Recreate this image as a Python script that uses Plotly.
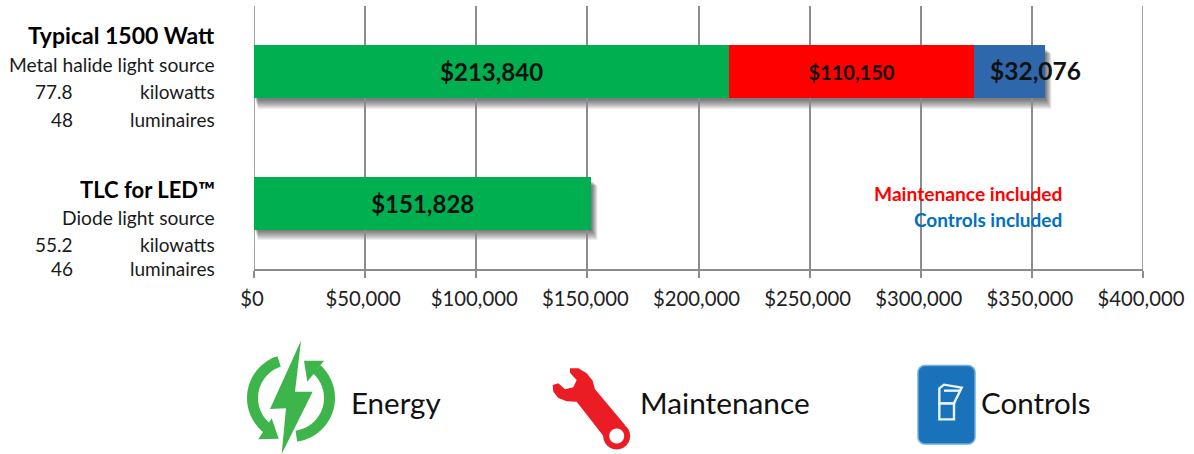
import math
import plotly.graph_objects as go

categories = ["Typical 1500 Watt", "TLC for LED™"]
energy = [213840, 151828]
maintenance = [110150, None]
controls = [32076, None]
x_ticks = [0, 50000, 100000, 150000, 200000, 250000, 300000, 350000, 400000]
x_tick_labels = ["$0", "$50,000", "$100,000", "$150,000", "$200,000", "$250,000", "$300,000", "$350,000", "$400,000"]
sub_labels = ["Metal halide light source", "Diode light source"]
kilowatts = ["77.8", "55.2"]
luminaires = ["48", "46"]
legend_names = ["Energy", "Maintenance", "Controls"]

W, H = 1194, 454
L, R, T, B = 254, 1143, 6, 269
FONT = "Lato, Carlito, Calibri, sans-serif"
GREEN, RED, BLUE = "#00B050", "#FF0000", "#2F67AC"
GRID = "#8C8C8C"

def px(x): return (x - L) / (R - L)
def py(y): return (B - y) / (B - T)
def poly(points, close=True):
    s = "M " + " L ".join(f"{px(a):.5f},{py(b):.5f}" for a, b in points)
    return s + (" Z" if close else "")
def arc(cx, cy, r1, r2, a0, a1, n=30):
    outer = [(cx + r1 * math.cos(math.radians(a0 + (a1 - a0) * i / n)),
              cy + r1 * math.sin(math.radians(a0 + (a1 - a0) * i / n))) for i in range(n + 1)]
    inner = [(cx + r2 * math.cos(math.radians(a1 - (a1 - a0) * i / n)),
              cy + r2 * math.sin(math.radians(a1 - (a1 - a0) * i / n))) for i in range(n + 1)]
    return outer + inner
def z3(points, ox, oy):
    return [(ox + a / 3, oy + b / 3) for a, b in points]

fig = go.Figure()
for name, vals, col, fsize in [("Energy", energy, GREEN, 24), ("Maintenance", maintenance, RED, 20), ("Controls", controls, BLUE, 24)]:
    labels = [f"${v:,}" if v is not None and name != "Controls" else "" for v in vals]
    fig.add_trace(go.Bar(
        y=categories, x=vals, name=name, orientation="h", width=0.4,
        marker=dict(color=col, line=dict(width=0)),
        text=labels, textposition="inside", insidetextanchor="middle", textangle=0,
        constraintext="none",
        insidetextfont=dict(family=FONT, size=fsize, color="#111", weight="bold"),
        hoverinfo="skip", showlegend=False,
    ))

shapes = []
# edge gridlines at the two ends of the value axis
for v in (x_ticks[0], x_ticks[-1]):
    shapes.append(dict(type="line", xref="x", yref="paper", layer="between", x0=v, x1=v, y0=0, y1=1,
                       line=dict(color=GRID, width=1.6)))
# white panel behind the inclusion notes
shapes.append(dict(type="rect", xref="paper", yref="paper", layer="between",
                   x0=px(870), x1=px(1066), y0=py(240), y1=py(173), fillcolor="white", line_width=0))
# soft drop shadows under bars
totals = [energy[0] + maintenance[0] + controls[0], energy[1]]
bottoms = [98, 229]
tops = [45, 177]
for total, bot, top in zip(totals, bottoms, tops):
    end = L + total / 400000 * (R - L)
    for i in range(10):
        shapes.append(dict(type="rect", xref="paper", yref="paper", layer="between",
                           x0=px(L + 1 + (9 - i) * 0.35), x1=px(end + 6 - i * 0.6),
                           y0=py(bot + 11 - i), y1=py(top + 4 + (9 - i) * 0.5),
                           fillcolor="rgba(0,0,0,0.065)", line_width=0))

# Energy icon
ICON_GREEN = "#3DB54A"
bolt = z3([(213, 32), (120, 237), (168, 235), (155, 372), (248, 185), (195, 185)], 230, 330)
shapes.append(dict(type="path", xref="paper", yref="paper", path=poly(bolt), fillcolor=ICON_GREEN, line_width=0))
cx, cy = 291, 398
left = arc(cx, cy, 44, 33, 252, 128)
right = arc(cx, cy, 44, 33, 82, -48)
shapes.append(dict(type="path", xref="paper", yref="paper", path=poly(left), fillcolor=ICON_GREEN, line_width=0))
shapes.append(dict(type="path", xref="paper", yref="paper", path=poly(right), fillcolor=ICON_GREEN, line_width=0))
shapes.append(dict(type="path", xref="paper", yref="paper",
                   path=poly(z3([(85, 328), (146, 326), (125, 265)], 230, 330)), fillcolor=ICON_GREEN, line_width=0))
shapes.append(dict(type="path", xref="paper", yref="paper",
                   path=poly(z3([(222, 92), (282, 92), (232, 155)], 230, 330)), fillcolor=ICON_GREEN, line_width=0))

# Wrench icon
ICON_RED = "#EC1C24"
wrench = z3([(1020, 115), (1045, 115), (1070, 130), (1088, 152), (1095, 178), (1185, 285), (1122, 320), (1040, 215),
             (1010, 214), (985, 204), (970, 185), (968, 165), (985, 160), (1005, 178), (1030, 172), (1040, 150), (1020, 128)], 230, 330)
shapes.append(dict(type="path", xref="paper", yref="paper", path=poly(wrench), fillcolor=ICON_RED, line_width=0))
wx, wy = 230 + 1160 / 3, 330 + 318 / 3
ring_o = [(wx + 13.5 * math.cos(t / 24 * 2 * math.pi), wy + 13.5 * math.sin(t / 24 * 2 * math.pi)) for t in range(24)]
ring_i = [(wx + 7.5 * math.cos(t / 24 * 2 * math.pi), wy + 7.5 * math.sin(t / 24 * 2 * math.pi)) for t in range(24)]
shapes.append(dict(type="path", xref="paper", yref="paper", path=poly(ring_o), fillcolor=ICON_RED, line_width=0))
shapes.append(dict(type="path", xref="paper", yref="paper", path=poly(ring_i), fillcolor="white", line_width=0))

# Controls icon
rx0, rx1, ry0, ry1, rr = 918, 975, 365.5, 444, 7
corner = lambda x, y, a: [(x + rr * math.cos(math.radians(a + 15 * k)), y + rr * math.sin(math.radians(a + 15 * k))) for k in range(7)]
rounded = corner(rx1 - rr, ry0 + rr, 270) + corner(rx1 - rr, ry1 - rr, 0) + corner(rx0 + rr, ry1 - rr, 90) + corner(rx0 + rr, ry0 + rr, 180)
shapes.append(dict(type="path", xref="paper", yref="paper", path=poly(rounded), fillcolor="#1A72BB",
                   line=dict(color="#6FAEDD", width=1.5)))
for pts in [[(118, 160), (162, 160), (162, 208), (118, 208)],
            [(118, 115), (132, 104), (185, 113), (162, 160), (118, 160)],
            [(132, 122), (180, 122)]]:
    shapes.append(dict(type="path", xref="paper", yref="paper", path=poly(z3(pts, 900, 350), close=len(pts) > 2),
                       line=dict(color="#EAF3FA", width=2.4)))

anns = []
def text(x, y, s, anchor="right", size=19, color="#1a1a1a", bold=False):
    anns.append(dict(xref="paper", yref="paper", x=px(x), y=py(y), text=s, showarrow=False,
                     xanchor=anchor, yanchor="middle", align=anchor,
                     font=dict(family=FONT, size=size, color=color, weight="bold" if bold else "normal"),
                     borderpad=0, borderwidth=0))

rows = [(35, 64, 91, 119), (189, 217, 244, 268)]
title_sizes = [23, 22]
for i, r in enumerate(rows):
    text(214.5, r[0], categories[i], size=title_sizes[i], color="#000", bold=True)
    text(214.5, r[1], sub_labels[i], size=19.2)
    text(72.5, r[2], kilowatts[i])
    text(214.5, r[2], "kilowatts")
    text(72.5, r[3], luminaires[i])
    text(214.5, r[3], "luminaires")

text(1062, 193.5, "Maintenance included", size=19.2, color="#FF0000", bold=True)
text(1062, 219, "Controls included", size=19, color="#0070C0", bold=True)
anns.append(dict(xref="x", yref="paper", x=energy[0] + maintenance[0] + controls[0] / 2 + 11500, y=py(70),
                 text=f"${controls[0]:,}", showarrow=False, xanchor="center", yanchor="middle",
                 font=dict(family=FONT, size=24.5, color="#111", weight="bold")))

text(351, 402, legend_names[0], anchor="left", size=29.5, color="#111")
text(640, 402, legend_names[1], anchor="left", size=29.8, color="#111")
text(981, 402, legend_names[2], anchor="left", size=29.5, color="#111")

fig.update_layout(
    width=W, height=H, autosize=False, barmode="stack", bargap=0.6,
    paper_bgcolor="white", plot_bgcolor="white",
    margin=dict(l=L, r=W - R, t=T, b=H - B, pad=0),
    showlegend=False, shapes=shapes, annotations=anns,
    xaxis=dict(range=[0, 400000], tickvals=x_ticks, ticktext=x_tick_labels, showgrid=True,
               gridcolor=GRID, gridwidth=1.6, showline=True, linecolor=GRID, linewidth=1.6,
               ticks="outside", ticklen=7, tickwidth=1.6, tickcolor=GRID, zeroline=False,
               ticklabelstandoff=4, ticklabelshift=-2,
               tickfont=dict(family=FONT, size=20.3, color="#222"), fixedrange=True),
    yaxis=dict(categoryorder="array", categoryarray=categories[::-1], showticklabels=False,
               showgrid=False, zeroline=False, showline=False, ticks="", fixedrange=True),
    font=dict(family=FONT),
)
fig.write_html("out.html", config={"displayModeBar": False},
               post_script="document.body.style.margin='0';")
